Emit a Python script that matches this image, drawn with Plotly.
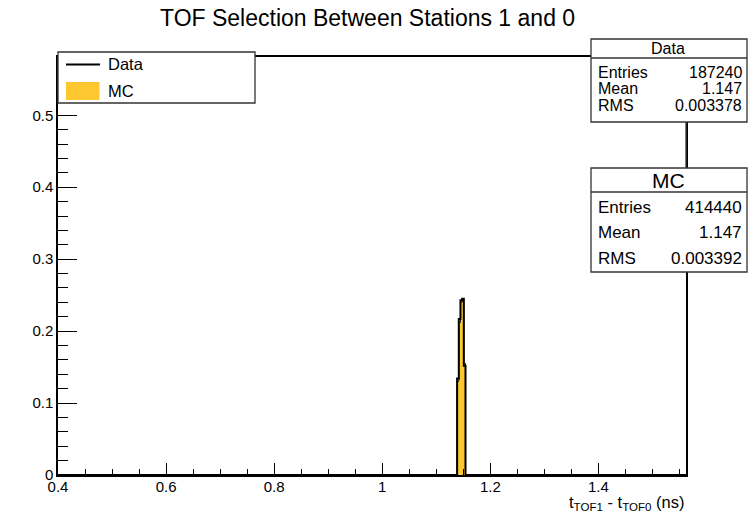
import plotly.graph_objects as go

# ---- data ----
bin_edges = [1.1385, 1.1416, 1.1447, 1.1478, 1.1509, 1.1540]
data_vals = [0.134, 0.217, 0.243, 0.245, 0.152]
mc_vals = [0.130, 0.212, 0.240, 0.243, 0.155]
x_range = [0.4, 1.562]
y_range = [0.0, 0.581]
x_tickvals = [0.4, 0.6, 0.8, 1.0, 1.2, 1.4]
x_ticktext = ["0.4", "0.6", "0.8", "1", "1.2", "1.4"]
y_tickvals = [0, 0.1, 0.2, 0.3, 0.4, 0.5]
y_ticktext = ["0", "0.1", "0.2", "0.3", "0.4", "0.5"]
data_stats = [("Entries", "187240"), ("Mean", "1.147"), ("RMS", "0.003378")]
mc_stats = [("Entries", "414440"), ("Mean", "1.147"), ("RMS", "0.003392")]

W, H = 748, 517
L, R, T, B = 58, 686, 57, 475
FONT = "Liberation Sans"
YEL = "#FDC82F"


def px(x):
    return (x - L) / (R - L)


def py(y):
    return (B - y) / (B - T)


def step(vals):
    xs = [x_range[0]] + bin_edges + [x_range[1]]
    ys = [0] + vals + [0, 0]
    return xs, ys


fig = go.Figure()
mx, my = step(mc_vals)
fig.add_trace(go.Scatter(x=mx, y=my, mode="lines", line_shape="hv",
                         fill="tozeroy", fillcolor=YEL,
                         line=dict(color="#222222", width=1), name="MC",
                         showlegend=False))
dx, dy = step(data_vals)
fig.add_trace(go.Scatter(x=dx, y=dy, mode="lines", line_shape="hv",
                         line=dict(color="black", width=2), name="Data",
                         showlegend=False))

shapes = []
annotations = []


def rect(x0, y0, x1, y1):
    shapes.append(dict(type="rect", xref="paper", yref="paper",
                       x0=px(x0), x1=px(x1), y0=py(y1), y1=py(y0),
                       line=dict(color="#333333", width=1.3), fillcolor="white",
                       layer="above"))


def line(x0, y0, x1, y1, color="#333333", width=1.3):
    shapes.append(dict(type="line", xref="paper", yref="paper",
                       x0=px(x0), x1=px(x1), y0=py(y0), y1=py(y1),
                       line=dict(color=color, width=width), layer="above"))


def text(x, y, s, size=15, xanchor="left"):
    annotations.append(dict(xref="paper", yref="paper", x=px(x), y=py(y),
                            text=s, showarrow=False, xanchor=xanchor,
                            yanchor="middle", font=dict(family=FONT, size=size, color="black")))


# legend box
rect(58, 52, 255, 103)
line(66, 64.5, 100, 64.5, color="black", width=2)
text(106, 64.5, "Data", 16.5)
shapes.append(dict(type="rect", xref="paper", yref="paper",
                   x0=px(66), x1=px(99.5), y0=py(100), y1=py(82),
                   line=dict(width=0), fillcolor=YEL, layer="above"))
text(106, 91, "MC", 16.5)

# connector between stat boxes (frame right border)
line(686, 121, 686, 168)

# Data stat box
rect(591, 39, 747, 122)
line(591, 58, 747, 58)
text(668, 48.5, "Data", 16, "center")
for i, (k, v) in enumerate(data_stats):
    yy = 72.5 + i * 16.5
    text(596, yy, k, 16)
    text(744, yy, v, 16, "right")

# MC stat box
rect(591, 168, 747, 272)
line(591, 192, 747, 192)
text(668, 180, "MC", 21, "center")
for i, (k, v) in enumerate(mc_stats):
    yy = 207 + i * 25.5
    text(596, yy, k, 17)
    text(744, yy, v, 17, "right")

# axis title
annotations.append(dict(xref="paper", yref="paper", x=px(686), y=py(503),
                        text="t<sub>TOF1</sub> - t<sub>TOF0</sub> (ns)",
                        showarrow=False, xanchor="right", yanchor="middle",
                        font=dict(family=FONT, size=16.5, color="black")))
# title
annotations.append(dict(xref="paper", yref="paper", x=px(367), y=py(18),
                        text="TOF Selection Between Stations 1 and 0",
                        showarrow=False, xanchor="center", yanchor="middle",
                        font=dict(family=FONT, size=23, color="black")))

fig.update_layout(
    width=W, height=H,
    margin=dict(l=L, r=W - R, t=T, b=H - B, pad=0),
    paper_bgcolor="white", plot_bgcolor="white",
    showlegend=False,
    shapes=shapes, annotations=annotations,
    xaxis=dict(range=x_range, showgrid=False, zeroline=False,
               showline=True, linecolor="black", linewidth=1.5, mirror=True,
               ticks="inside", ticklen=12, tickcolor="black",
               tickvals=x_tickvals, ticktext=x_ticktext,
               ticklabelstandoff=-3,
               minor=dict(dtick=0.05, tick0=0.4, ticks="inside", ticklen=6,
                          tickcolor="black", showgrid=False),
               tickfont=dict(family=FONT, size=15, color="black")),
    yaxis=dict(range=y_range, showgrid=False, zeroline=False,
               showline=True, linecolor="black", linewidth=1.5, mirror=True,
               ticks="inside", ticklen=19, tickcolor="black",
               tickvals=y_tickvals, ticktext=y_ticktext,
               minor=dict(dtick=0.02, tick0=0, ticks="inside", ticklen=10,
                          tickcolor="black", showgrid=False),
               tickfont=dict(family=FONT, size=15, color="black")),
)

fig.write_html("out.html")
